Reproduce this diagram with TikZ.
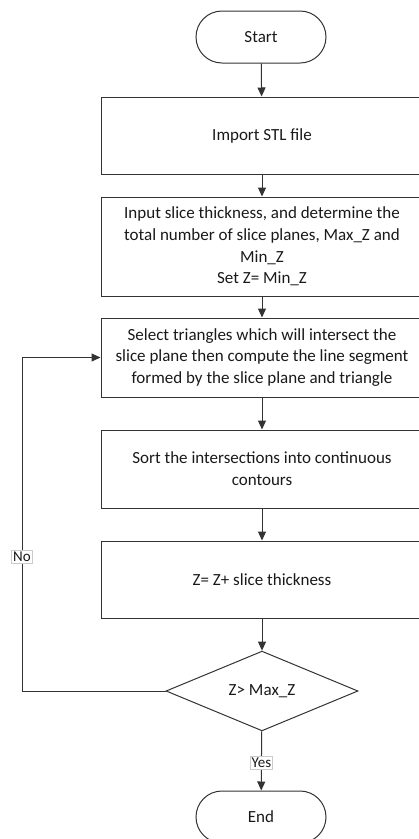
\documentclass[tikz,border=0pt]{standalone}
\usepackage{fontspec}
\setmainfont{Carlito}
\usetikzlibrary{shapes.geometric,arrows.meta}
\begin{document}
\begin{tikzpicture}[x=1pt,y=-1pt,
  every node/.style={font=\fontsize{17}{21.7}\selectfont, text=black!90},
  line/.style={line width=1pt, draw=black!80},
  arr/.style={line, -{Triangle[width=8pt,length=9pt]}},
  procbox/.style={line, draw, rectangle, minimum width=322pt, inner sep=0pt, align=center},
  term/.style={line, draw, rectangle, rounded corners=26pt, minimum width=130pt, minimum height=52pt, inner sep=0pt},
  decis/.style={line, draw, diamond, minimum width=192pt, minimum height=76pt, inner sep=0pt},
  lbl/.style={draw=black!20, line width=0.6pt, fill=white, inner sep=1.5pt, font=\fontsize{15}{18}\selectfont}
]
\useasboundingbox (0,0) rectangle (419,839);
\node[term] (start) at (261,37) {Start};
\node[procbox, minimum height=77pt] (b1) at (262,135.5) {Import STL file};
\node[procbox, minimum height=99pt] (b2) at (262,246.5) {Input slice thickness, and determine the\\total number of slice planes, Max\_Z and\\Min\_Z\\Set Z= Min\_Z};
\node[procbox, minimum height=79pt] (b3) at (262,357.5) {Select triangles which will intersect the\\slice plane then compute the line segment\\formed by the slice plane and triangle};
\node[procbox, minimum height=78pt] (b4) at (262,469) {Sort the intersections into continuous\\contours};
\node[procbox, minimum height=77pt] (b5) at (262,579.5) {Z= Z+ slice thickness};
\node[decis] (dec) at (262,691) {Z> Max\_Z};
\node[term] (end) at (261,817) {End};
\coordinate (lp) at (22,691);
\draw[arr] (start) -- (b1);
\draw[arr] (b1) -- (b2);
\draw[arr] (b2) -- (b3);
\draw[arr] (b3) -- (b4);
\draw[arr] (b4) -- (b5);
\draw[arr] (b5) -- (dec);
\draw[arr] (dec) -- node[lbl, pos=0.53] (yes) {Yes} (end);
\draw[arr] (dec.west) -- (lp) |- (b3.west);
\node[lbl] (no) at (22,557) {No};
\end{tikzpicture}
\end{document}
